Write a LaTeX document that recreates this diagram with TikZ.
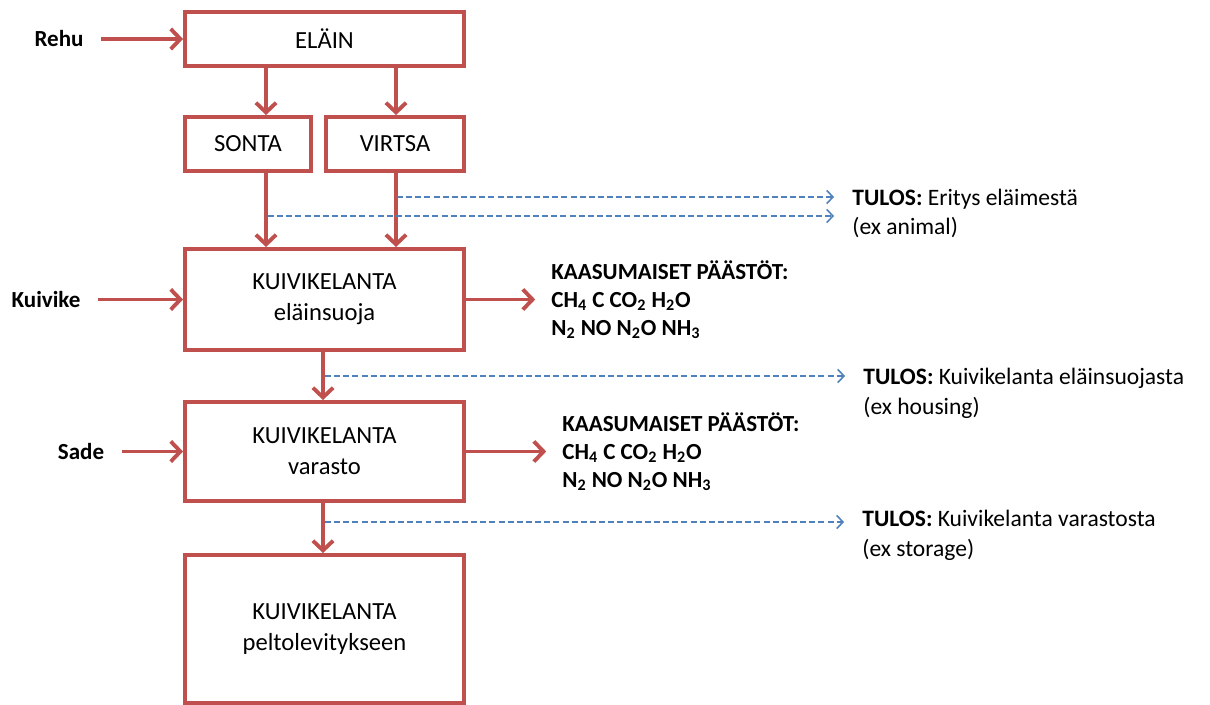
\documentclass[tikz,border=0pt]{standalone}
\usepackage{fontspec}
\setmainfont{Carlito}
\usetikzlibrary{arrows.meta}
\definecolor{flowred}{HTML}{C0504D}
\definecolor{resultblue}{HTML}{4F81BD}
\newcommand{\chemsub}[1]{\textsubscript{#1}}

\begin{document}
\begin{tikzpicture}[
    box/.style={draw=flowred, line width=2.2pt, align=center, inner sep=0pt, minimum width=5.58cm, font=\fontsize{14}{17.6}\selectfont},
    inlabel/.style={inner sep=0pt, font=\bfseries\fontsize{13.1}{15}\selectfont},
    gas/.style={anchor=west, align=left, inner sep=0pt, font=\bfseries\fontsize{13.1}{16}\selectfont},
    tulos/.style={anchor=west, align=left, inner sep=0pt, font=\fontsize{13.4}{17}\selectfont},
    flow/.style={draw=flowred, line width=2.2pt, -{Straight Barb[length=5.5pt,width=11.5pt]}},
    result/.style={draw=resultblue, line width=0.9pt, dash pattern=on 3.4pt off 1.8pt, shorten >=0.36cm, -{Straight Barb[length=3.5pt,width=7.5pt]}}
  ]
    \useasboundingbox (0,0) rectangle (24.2,14.08);

    % boxes
    \node[box, minimum height=1.08cm] (elain) at (6.49,13.30) {ELÄIN};
    \node[box, minimum width=2.52cm, minimum height=1.08cm] (sonta) at (4.96,11.20) {SONTA};
    \node[box, minimum width=2.76cm, minimum height=1.08cm] (virtsa) at (7.90,11.20) {VIRTSA};
    \node[box, minimum height=2.02cm] (suoja) at (6.49,8.09) {KUIVIKELANTA\\eläinsuoja};
    \node[box, minimum height=1.98cm] (varasto) at (6.49,5.05) {KUIVIKELANTA\\varasto};
    \node[box, minimum height=2.96cm] (pelto) at (6.49,1.50) {KUIVIKELANTA\\peltolevitykseen};

    % inputs
    \node[inlabel] (rehu) at (1.18,13.30) {Rehu};
    \node[inlabel] (kuivike) at (0.92,8.09) {Kuivike};
    \node[inlabel] (sade) at (1.62,5.05) {Sade};
    \draw[flow, shorten <=10pt] (rehu) -- (elain);
    \draw[flow, shorten <=10pt] (kuivike) -- (suoja);
    \draw[flow, shorten <=10pt] (sade) -- (varasto);

    % flow down
    \coordinate (xl) at (5.32,0);
    \coordinate (xr) at (7.92,0);
    \coordinate (xm) at (6.46,0);
    \draw[flow] (elain.south -| xl) -- (sonta.north -| xl);
    \draw[flow] (elain.south -| xr) -- (virtsa.north -| xr);
    \draw[flow] (sonta.south -| xl) -- (suoja.north -| xl);
    \draw[flow] (virtsa.south -| xr) -- (suoja.north -| xr);
    \draw[flow] (suoja.south -| xm) -- (varasto.north -| xm);
    \draw[flow] (varasto.south -| xm) -- (pelto.north -| xm);

    % gaseous emissions
    \node[gas] (gas1) at (11.02,8.09) {KAASUMAISET PÄÄSTÖT:\\CH\chemsub{4} C CO\chemsub{2} H\chemsub{2}O\\N\chemsub{2} NO N\chemsub{2}O NH\chemsub{3}};
    \node[gas] (gas2) at (11.24,5.05) {KAASUMAISET PÄÄSTÖT:\\CH\chemsub{4} C CO\chemsub{2} H\chemsub{2}O\\N\chemsub{2} NO N\chemsub{2}O NH\chemsub{3}};
    \draw[flow, shorten >=9pt] (suoja) -- (gas1);
    \draw[flow, shorten >=9pt] (varasto) -- (gas2);

    % results
    \node[tulos] (t1) at (17.04,9.81) {\textbf{TULOS:} Eritys eläimestä\\(ex animal)};
    \node[tulos] (t2) at (17.26,6.22) {\textbf{TULOS:} Kuivikelanta eläinsuojasta\\(ex housing)};
    \node[tulos] (t3) at (17.24,3.37) {\textbf{TULOS:} Kuivikelanta varastosta\\(ex storage)};
    \coordinate (d1) at (7.94,10.14);
    \coordinate (d2) at (5.36,9.76);
    \coordinate (d3) at (6.50,6.56);
    \coordinate (d4) at (6.50,3.64);
    \draw[result] (d1) -- (d1 -| t1.west); % urine
    \draw[result] (d2) -- (d2 -| t1.west); % dung
    \draw[result] (d3) -- (d3 -| t2.west); % housing
    \draw[result] (d4) -- (d4 -| t3.west); % storage
\end{tikzpicture}
\end{document}
